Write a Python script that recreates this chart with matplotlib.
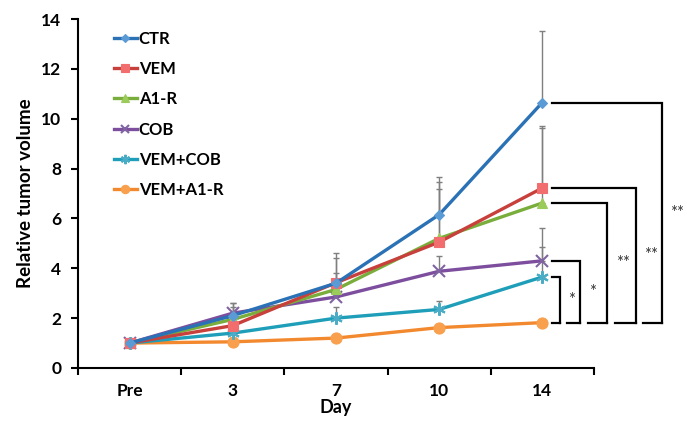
import matplotlib
matplotlib.use("Agg")
import matplotlib.pyplot as plt
import numpy as np

categories = ["Pre", "3", "7", "10", "14"]
series_names = ["CTR", "VEM", "A1-R", "COB", "VEM+COB", "VEM+A1-R"]
ctr = [1.0, 2.1, 3.4, 6.15, 10.65]
vem = [1.0, 1.7, 3.42, 5.05, 7.22]
a1r = [1.0, 1.95, 3.15, 5.2, 6.62]
cob = [1.0, 2.2, 2.85, 3.88, 4.3]
vem_cob = [1.0, 1.4, 2.0, 2.35, 3.65]
vem_a1r = [1.0, 1.05, 1.2, 1.62, 1.82]
ctr_err = [0.0, 0.5, 1.22, 1.52, 2.85]
vem_err = [0.0, 0.4, 0.99, 2.42, 2.5]
a1r_err = [0.0, 0.5, 0.67, 1.98, 3.0]
cob_err = [0.0, 0.42, 0.5, 0.6, 1.33]
vem_cob_err = [0.0, 0.2, 0.45, 0.32, 1.2]
vem_a1r_err = [0.0, 0.08, 0.15, 0.12, 0.1]

values = [ctr, vem, a1r, cob, vem_cob, vem_a1r]
errors = [ctr_err, vem_err, a1r_err, cob_err, vem_cob_err, vem_a1r_err]
line_colors = ["#2a72b5", "#c8403c", "#7aae3c", "#7d4e9e", "#1e9eb8", "#f3892e"]
marker_faces = ["#5b9bd5", "#f26d6d", "#9bcb5a", "#8064a2", "#4bacc6", "#f9a04e"]
markers = ["D", "s", "^", "x", (6, 2, 0), "o"]
msizes = [5, 7, 7, 8, 9, 8]

# significance brackets: (upper series index, lower series index, label, x of vertical)
brackets = [(4, 5, "*", 4.17), (3, 5, "*", 4.37), (2, 5, "**", 4.63),
            (1, 5, "**", 4.91), (0, 5, "**", 5.16)]

plt.rcParams['font.family'] = ['Lato', 'DejaVu Sans']
fig = plt.figure(figsize=(6.87, 4.29), dpi=100)
ax = fig.add_axes([0.1135, 0.1422, 0.751, 0.8135])
x = np.arange(len(categories))

for i, name in enumerate(series_names):
    y = np.array(values[i])
    e = np.array(errors[i])
    ax.errorbar(x, y, yerr=[np.zeros_like(e), e], fmt="none", ecolor="#7f7f7f",
                elinewidth=1.0, capsize=2.5, capthick=1.0, zorder=2)
for i, name in enumerate(series_names):
    is_line_marker = isinstance(markers[i], tuple) or markers[i] == "x"
    ax.plot(x, values[i], color=line_colors[i], lw=2.4, marker=markers[i],
            markersize=msizes[i], markerfacecolor=marker_faces[i],
            markeredgecolor=marker_faces[i],
            markeredgewidth=1.5 if is_line_marker else 0.8,
            label=name, zorder=3 + (5 - i))

# brackets
base_y = vem_a1r[-1]
x_start = 4.09
prev_x = x_start
for up, low, lab, xv in brackets:
    ytop = values[up][-1]
    ax.plot([x_start, xv, xv], [ytop, ytop, base_y], color="black", lw=1.6,
            clip_on=False, solid_joinstyle="miter")
    ax.plot([prev_x, xv], [base_y, base_y], color="black", lw=1.6, clip_on=False)
    prev_x = xv + 0.07
    ax.text(xv + 0.08, (ytop + base_y) / 2, lab, fontsize=12, ha="left", va="center",
            color="#333333", clip_on=False)

ax.set_xlim(-0.5, 4.5)
ax.set_ylim(0, 14)
ax.set_yticks(np.arange(0, 15, 2))
ax.set_xticks(np.arange(-0.5, 5.0, 1.0))
ax.set_xticklabels([])
ax.set_xticks(x, minor=True)
ax.set_xticklabels(categories, minor=True)
ax.tick_params(axis="x", which="major", length=5, width=1.5, direction="out")
ax.tick_params(axis="x", which="minor", length=0, pad=11, labelsize=12.5)
ax.tick_params(axis="y", length=5, width=1.5, labelsize=12.5, pad=7)
for lbl in ax.get_xticklabels(minor=True) + ax.get_yticklabels():
    lbl.set_fontweight("bold")
for s in ("top", "right"):
    ax.spines[s].set_visible(False)
for s in ("left", "bottom"):
    ax.spines[s].set_linewidth(1.5)

ax.set_xlabel("Day", fontsize=13, fontweight="bold", labelpad=0)
ax.set_ylabel("Relative tumor volume", fontsize=13.5, fontweight="bold", labelpad=5)

leg = ax.legend(loc="upper left", bbox_to_anchor=(0.04, 1.01), frameon=False,
                prop={"weight": "bold", "size": 12}, handlelength=1.4,
                handletextpad=0.1, labelspacing=0.86, markerscale=0.75)

fig.savefig("out.png", dpi=100)
